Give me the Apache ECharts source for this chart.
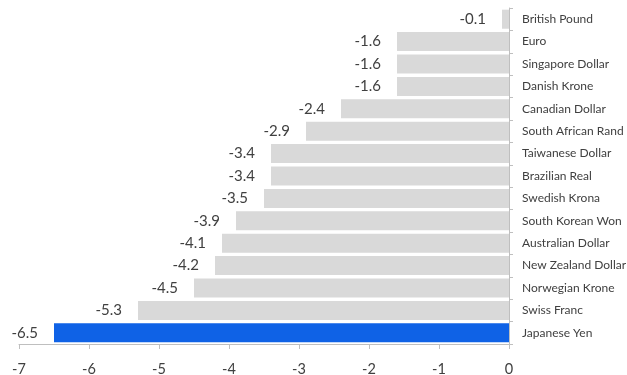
<!DOCTYPE html>
<html><head><meta charset="utf-8">
<script src="https://cdn.jsdelivr.net/npm/echarts@6/dist/echarts.min.js"></script>
<style>html,body{margin:0;padding:0;background:#fff}#c{width:627px;height:375px}</style>
</head><body><div id="c"></div>
<script>
const categories = ["British Pound","Euro","Singapore Dollar","Danish Krone","Canadian Dollar","South African Rand","Taiwanese Dollar","Brazilian Real","Swedish Krona","South Korean Won","Australian Dollar","New Zealand Dollar","Norwegian Krone","Swiss Franc","Japanese Yen"];
const values = [-0.1,-1.6,-1.6,-1.6,-2.4,-2.9,-3.4,-3.4,-3.5,-3.9,-4.1,-4.2,-4.5,-5.3,-6.5];
const highlight = "Japanese Yen";
const chart = echarts.init(document.getElementById('c'));
chart.setOption({
  animation:false,
  textStyle:{fontFamily:'Lato'},
  grid:{left:19,right:118,top:8,bottom:31,containLabel:false,outerBoundsMode:'none'},
  xAxis:{type:'value',min:-7,max:0,interval:1,
    axisLine:{show:true,lineStyle:{color:'#bfbfbf'}},
    axisTick:{show:true,length:5,lineStyle:{color:'#bfbfbf'}},
    splitLine:{show:false},
    axisLabel:{color:'#404040',fontSize:14.5,margin:18}},
  yAxis:{type:'category',data:categories,inverse:true,position:'right',
    axisLine:{show:true,lineStyle:{color:'#bfbfbf'}},
    axisTick:{show:true,length:4,lineStyle:{color:'#bfbfbf'}},
    axisLabel:{color:'#404040',fontSize:12,margin:13,overflow:'none'}},
  series:[{type:'bar',barCategoryGap:'15%',
    data:values.map((v,i)=>({value:v,itemStyle:{color:categories[i]===highlight?'#0f62e6':'#d9d9d9'}})),
    label:{show:true,position:'left',distance:16,color:'#404040',fontSize:15,formatter:p=>p.value.toFixed(1)}}]
});
</script></body></html>
